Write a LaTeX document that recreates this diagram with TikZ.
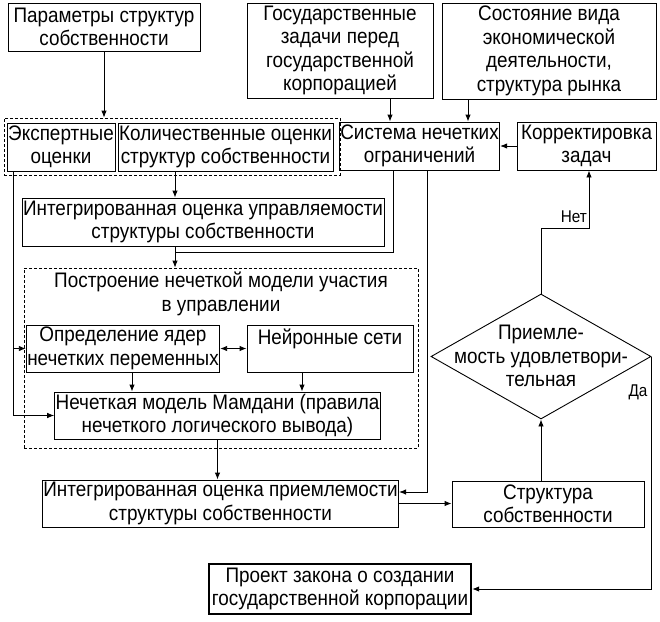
\documentclass[tikz,border=0pt]{standalone}
\usepackage{fontspec}
\setmainfont{Liberation Sans}[FakeStretch=0.9]
\usetikzlibrary{arrows.meta,calc,shapes.geometric}
\begin{document}
\begin{tikzpicture}[x=1pt,y=-1pt,
  every node/.style={font=\fontsize{21}{23.5}\selectfont},
  box/.style={draw, line width=0.9pt, inner sep=1pt, align=center},
  sz/.style 2 args={minimum width=#1pt, minimum height=#2pt},
  dbox/.style={draw, line width=0.8pt, dash pattern=on 3pt off 2pt, inner sep=0pt},
  txt/.style={inner sep=0pt, align=center},
  lbl/.style={inner sep=1pt, font=\fontsize{17}{19}\selectfont},
  arr/.style={line width=0.9pt, -{Latex[length=7pt,width=5.5pt]}},
  arrb/.style={line width=0.9pt, {Latex[length=7pt,width=5.5pt]}-{Latex[length=7pt,width=5.5pt]}},
  ln/.style={line width=0.9pt}]
\useasboundingbox (0,0) rectangle (660,621);
% top row
\node[box, sz={192}{48}] (b1) at (104,27) {Параметры структур\\собственности};
\node[box, sz={186}{95}] (b2) at (340,50.5) {Государственные\\задачи перед\\государственной\\корпорацией};
\node[box, sz={214}{96}] (b3) at (549,51) {Состояние вида\\экономической\\деятельности,\\структура рынка};
% group of estimates
\node[dbox, sz={336}{57}] (grp) at (172,146.5) {};
\node[box, sz={108}{48}] (exp) at (61,147) {Экспертные\\оценки};
\node[box, sz={215}{48}] (quant) at (225.5,147) {Количественные оценки\\структур собственности};
\node[box, sz={155}{48}] (sys) at (419.5,146) {Система нечетких\\ограничений};
\node[box, sz={139}{48}] (korr) at (586.5,146) {Корректировка\\задач};
\node[box, sz={350}{48}] (int1) at (203,222) {Интегрированная оценка управляемости\\структуры собственности};
% fuzzy model block
\node[dbox, sz={394}{180}] (big) at (221,358) {};
\node[txt] (bigt) at (221,294) {Построение нечеткой модели участия\\в управлении};
\node[box, sz={190}{47}] (opr) at (123,348.5) {Определение ядер\\нечетких переменных};
\node[box, sz={166}{47}] (neu) at (330,348.5) {Нейронные сети\\~};
\node[box, sz={325}{47}] (mam) at (217.5,415.5) {Нечеткая модель Мамдани (правила\\нечеткого логического вывода)};
\node[box, sz={343}{47}] (int2) at (220.5,503.5) {Интегрированная оценка приемлемости\\структуры собственности};
\node[box, sz={192}{46}] (str) at (548,504) {Структура\\собственности};
\node[box, line width=2.4pt, sz={262}{50}] (proj) at (340,589) {Проект закона о создании\\государственной корпорации};
% decision
\node[draw, line width=0.9pt, diamond, sz={220}{125}, inner sep=0pt] (dec) at (541,356.5) {};
\node[txt] (dect) at (541,356) {Приемле-\\мость удовлетвори-\\тельная};
\node[lbl, anchor=east] (net) at (588,217) {Нет};
\node[lbl] (da) at (638,392) {Да};
% connectors
\draw[arr] (b1.south) -- (b1.south |- grp.north);
\draw[arr] ([xshift=50pt]b2.south) -- ([xshift=50pt]b2.south |- sys.north);
\draw[arr] ([xshift=-81pt]b3.south) -- ([xshift=-81pt]b3.south |- sys.north);
\draw[arr] (korr.west) -- (sys.east);
\draw[arr] ([xshift=-48pt]exp.south) |- (mam.west);
\draw[arr] ([xshift=-48pt]exp.south |- opr.west) -- (opr.west);
\draw[arr] ([xshift=-28pt]int1.north |- quant.south) -- ([xshift=-28pt]int1.north);
\draw[arr] ([xshift=-28pt]int1.south) -- ([xshift=-28pt]int1.south |- big.north);
\draw[ln] ([xshift=-26.5pt]sys.south) |- ([xshift=-28pt,yshift=-6pt]int1.south);
\draw[arr] ([xshift=7.5pt]sys.south) |- ([yshift=11.5pt]int2.east);
\draw[arr] (int2.east) -- (int2.east -| str.west);
\draw[arrb] (opr.east) -- (neu.west);
\draw[arr] ([xshift=9pt]opr.south) -- ([xshift=9pt]opr.south |- mam.north);
\draw[arr] ([xshift=-28pt]neu.south) -- ([xshift=-28pt]neu.south |- mam.north);
\draw[arr] (mam.south) -- (mam.south |- int2.north);
\draw[arr] (str.north -| dec.south) -- (dec.south);
\draw[arr] (dec.north) -- ++(0,-65) -| ([xshift=2.5pt]korr.south);
\draw[arr] (dec.east) |- (proj.east);
\end{tikzpicture}
\end{document}
